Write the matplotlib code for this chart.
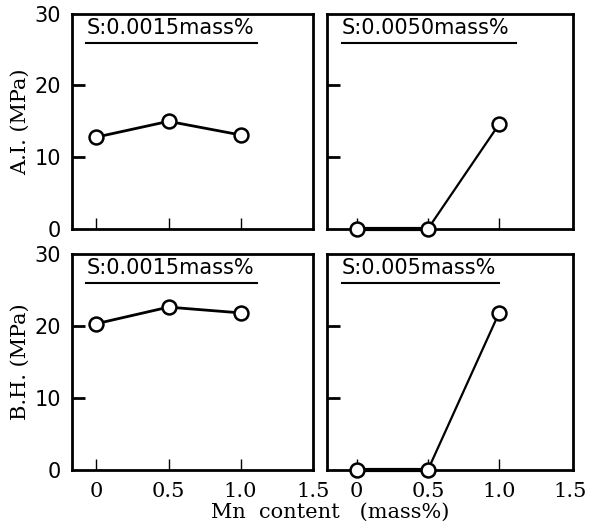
import matplotlib.pyplot as plt

mn = [0, 0.5, 1.0]
ai_low_s = [12.8, 15.0, 13.1]
ai_high_s = [0, 0, 14.6]
bh_low_s = [20.3, 22.6, 21.8]
bh_high_s = [0, 0, 21.8]

titles = ['S:0.0015mass%', 'S:0.0050mass%', 'S:0.0015mass%', 'S:0.005mass%']
ylabels = ['A.I. (MPa)', 'B.H. (MPa)']
xticks = [0, 0.5, 1.0, 1.5]
xticklabels = ['0', '0.5', '1.0', '1.5']
xmarks = [0, 0.5, 1.0]
yticks = [0, 10, 20, 30]
ymarks = [10, 20]

serif = 'DejaVu Serif'
sans = 'DejaVu Sans'

fig = plt.figure(figsize=(5.89, 5.31), dpi=100)

# axes boxes [left, bottom, width, height]
boxes = [[0.122, 0.569, 0.409, 0.405],
         [0.555, 0.569, 0.418, 0.405],
         [0.122, 0.115, 0.409, 0.407],
         [0.555, 0.115, 0.418, 0.407]]
series = [ai_low_s, ai_high_s, bh_low_s, bh_high_s]
xlims = [(-0.17, 1.50), (-0.21, 1.52), (-0.17, 1.50), (-0.21, 1.52)]
ul_end = [0.77, 0.77, 0.77, 0.70]

for i in range(4):
    ax = fig.add_axes(boxes[i])
    ax.plot(mn, series[i], color='black', lw=2.0 if i % 2 == 0 else 1.6,
            marker='o', ms=10, mfc='white', mec='black', mew=1.8,
            clip_on=False, zorder=5)
    if i % 2 == 1:
        # flat part sits on the axis, drawn heavy
        ax.plot(mn[:2], series[i][:2], color='black', lw=3.0, zorder=4,
                clip_on=False)
    ax.set_xlim(*xlims[i])
    ax.set_ylim(0, 30)
    for s in ax.spines.values():
        s.set_linewidth(2.0)

    # major ticks carry labels only, minor ticks carry the marks
    ax.xaxis.remove_overlapping_locs = False
    ax.yaxis.remove_overlapping_locs = False
    ax.set_yticks(yticks)
    ax.set_xticks(xticks)
    ax.set_yticks(ymarks, minor=True)
    ax.set_xticks(xmarks, minor=True)
    ax.tick_params(axis='both', which='major', length=0)
    ax.tick_params(axis='y', which='major', pad=8)
    ax.tick_params(axis='x', which='major', pad=9)
    ax.tick_params(axis='y', which='minor', direction='in', length=9, width=2.0)
    ax.tick_params(axis='x', which='minor', direction='in', length=8, width=1.0)

    if i % 2 == 0:
        ax.set_yticklabels([str(v) for v in yticks], fontsize=15, family=sans)
        ax.set_ylabel(ylabels[i // 2], fontsize=15, family=serif, labelpad=3)
    else:
        ax.set_yticklabels([])
    if i >= 2:
        ax.set_xticklabels(xticklabels, fontsize=15, family=serif)
    else:
        ax.set_xticklabels([])

    ax.text(0.06, 0.905, titles[i], transform=ax.transAxes, fontsize=15,
            family=sans, ha='left', va='baseline')
    ax.plot([0.06, ul_end[i]], [0.866, 0.866], transform=ax.transAxes,
            color='black', lw=1.5)

fig.text(0.56, 0.025, 'Mn  content   (mass%)', fontsize=15, family=serif,
         ha='center', va='baseline')

fig.savefig('out.png', dpi=100)
